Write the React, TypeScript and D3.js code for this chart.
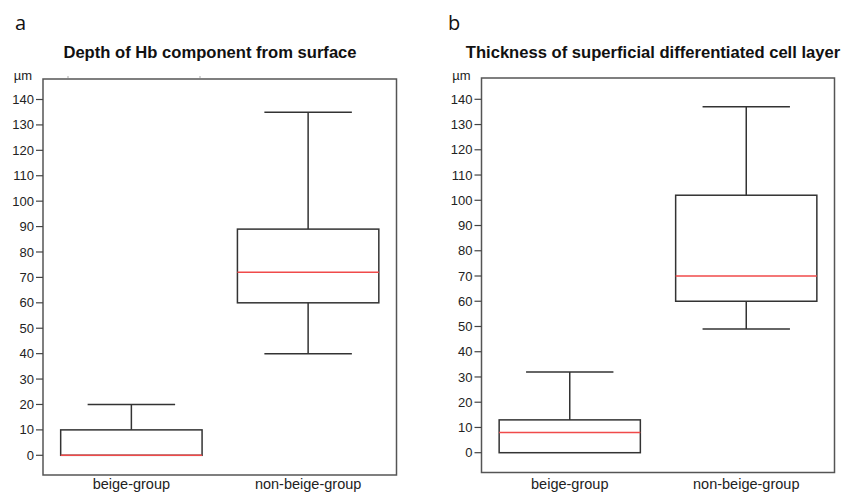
import React from 'react';
import * as d3 from 'd3';

const groups = ['beige-group', 'non-beige-group'];
const yTicks = [0, 10, 20, 30, 40, 50, 60, 70, 80, 90, 100, 110, 120, 130, 140];

// panel a: depth of Hb component
const depthLow = [0, 40];
const depthQ1 = [0, 60];
const depthMedian = [0, 72];
const depthQ3 = [10, 89];
const depthHigh = [20, 135];

// panel b: thickness of differentiated layer
const thickLow = [0, 49];
const thickQ1 = [0, 60];
const thickMedian = [8, 70];
const thickQ3 = [13, 102];
const thickHigh = [32, 137];

const tickFont = '"Liberation Sans", Arial, sans-serif';

type PanelProps = {
  letter: string;
  title: string;
  titleX: number;
  frame: { left: number; right: number; top: number; bottom: number };
  zeroY: number;
  topY: number;
  low: number[];
  q1: number[];
  median: number[];
  q3: number[];
  high: number[];
  letterX: number;
};

const Panel = ({ letter, title, titleX, frame, zeroY, topY, low, q1, median, q3, high, letterX }: PanelProps) => {
  const y = d3.scaleLinear().domain([0, 140]).range([zeroY, topY]);
  const x = d3.scaleBand().domain(groups).range([frame.left, frame.right]);
  const boxW = x.bandwidth() * 0.8;
  const capW = x.bandwidth() * 0.495;

  return (
    <g>
      <text x={letterX} y={30} fontFamily='"Open Sans", sans-serif' fontSize={20} fill="#111">{letter}</text>
      <text x={titleX} y={58} textAnchor="middle" fontFamily={tickFont} fontWeight="bold" fontSize={16.6} fill="#111">{title}</text>
      <text x={frame.left - 11} y={80} textAnchor="end" fontFamily={tickFont} fontSize={13} fill="#222">µm</text>
      <rect x={frame.left} y={frame.top} width={frame.right - frame.left} height={frame.bottom - frame.top}
        fill="none" stroke="#555" strokeWidth={1.5} />
      {yTicks.map(t => (
        <g key={t}>
          <line x1={frame.left - 7} x2={frame.left} y1={y(t)} y2={y(t)} stroke="#444" strokeWidth={1.2} />
          <text x={frame.left - 9} y={y(t)} dy="0.35em" textAnchor="end" fontFamily={tickFont} fontSize={13} fill="#222">{t}</text>
        </g>
      ))}
      {groups.map((g, i) => {
        const cx = (x(g) as number) + x.bandwidth() / 2;
        return (
          <g key={g}>
            <line x1={cx} x2={cx} y1={y(high[i])} y2={y(q3[i])} stroke="#333" strokeWidth={1.5} />
            <line x1={cx} x2={cx} y1={y(q1[i])} y2={y(low[i])} stroke="#333" strokeWidth={1.5} />
            {high[i] > q3[i] && (
              <line x1={cx - capW / 2} x2={cx + capW / 2} y1={y(high[i])} y2={y(high[i])} stroke="#333" strokeWidth={1.5} />
            )}
            {low[i] < q1[i] && (
              <line x1={cx - capW / 2} x2={cx + capW / 2} y1={y(low[i])} y2={y(low[i])} stroke="#333" strokeWidth={1.5} />
            )}
            <rect x={cx - boxW / 2} y={y(q3[i])} width={boxW} height={y(q1[i]) - y(q3[i])}
              fill="none" stroke="#333" strokeWidth={1.5} />
            <line x1={cx - boxW / 2} x2={cx + boxW / 2} y1={y(median[i])} y2={y(median[i])} stroke="#f04a4a" strokeWidth={1.6} />
            <text x={cx} y={489} textAnchor="middle" fontFamily={tickFont} fontSize={14.5} fill="#222">{g}</text>
          </g>
        );
      })}
    </g>
  );
};

const App = () => {
  return (
    <div style={{ position: 'absolute', left: 0, top: 0 }}>
      <svg width={853} height={492} style={{ display: 'block', background: '#fff' }}>
        <Panel letter="a" letterX={15} title="Depth of Hb component from surface" titleX={210}
          frame={{ left: 43, right: 396.5, top: 79, bottom: 475 }} zeroY={455.3} topY={99.5}
          low={depthLow} q1={depthQ1} median={depthMedian} q3={depthQ3} high={depthHigh} />
        <Panel letter="b" letterX={448} title="Thickness of superficial differentiated cell layer" titleX={653}
          frame={{ left: 481.5, right: 834.5, top: 78, bottom: 472.5 }} zeroY={452.7} topY={99.3}
          low={thickLow} q1={thickQ1} median={thickMedian} q3={thickQ3} high={thickHigh} />
        <line x1={67} x2={69} y1={77} y2={77} stroke="#aaa" />
        <line x1={199} x2={201} y1={77} y2={77} stroke="#aaa" />
      </svg>
    </div>
  );
};

export default App;
